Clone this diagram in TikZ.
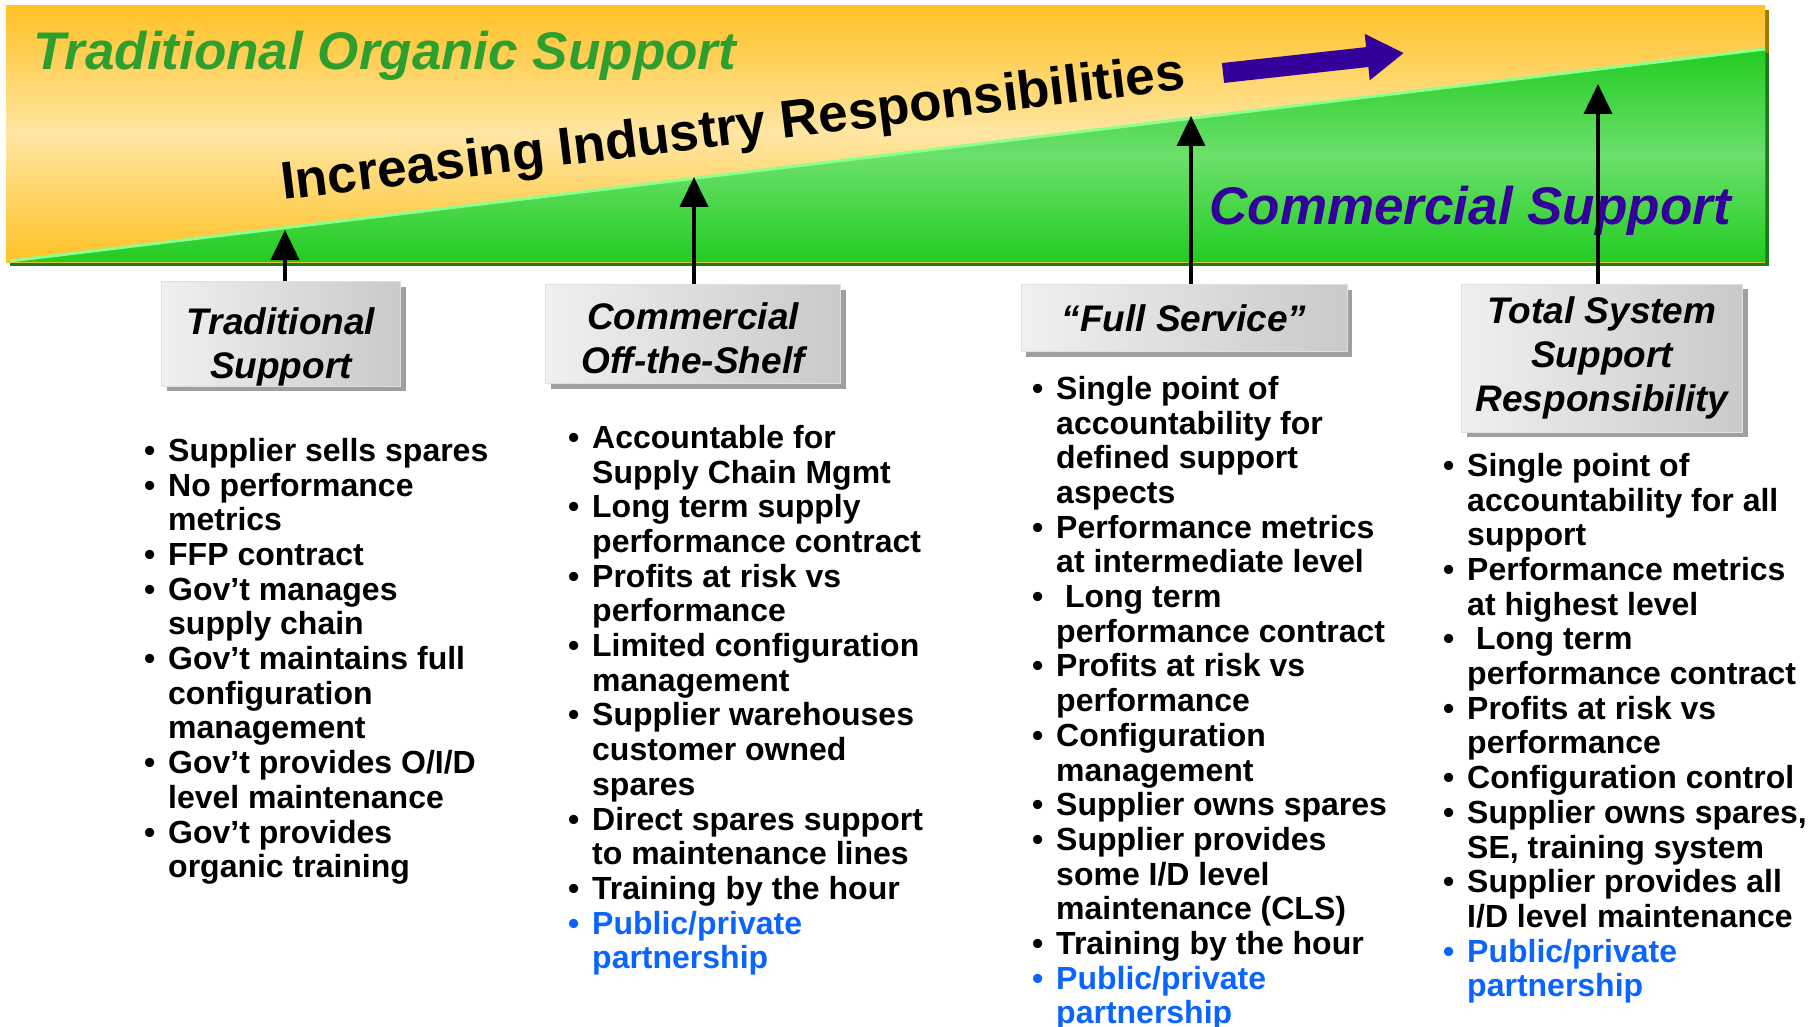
\documentclass[tikz,border=0pt]{standalone}
\usepackage{fontspec}
\setmainfont{Liberation Sans}
\usetikzlibrary{arrows.meta,shadows,positioning}

\definecolor{orgGreen}{HTML}{2E9E2E}
\definecolor{comBlue}{HTML}{330099}
\definecolor{linkBlue}{HTML}{0A64FF}
\definecolor{bandTop}{HTML}{FFC125}
\definecolor{bandMid}{HTML}{FFE6A3}
\definecolor{grnTop}{HTML}{22CC22}
\definecolor{grnMid}{HTML}{6CE06C}
\definecolor{grnDark}{HTML}{1E7A1E}
\definecolor{oliveDark}{HTML}{9C7C00}

\newcommand\bul{\makebox[24pt][l]{\textbullet}}
\newcommand\pub{\makebox[24pt][l]{\color{linkBlue}\textbullet}}
\newcommand\ind{\hspace*{24pt}}

\begin{document}
\begin{tikzpicture}[x=1pt,y=-1pt,
  support box/.style={draw=gray!25,line width=0.8pt,left color=gray!12,right color=gray!42,
    drop shadow={shadow xshift=5pt,shadow yshift=-5pt,fill=gray!75,opacity=1},
    align=center,inner sep=0pt,font=\fontsize{37}{44}\selectfont\bfseries\itshape},
  item list/.style={anchor=north west,align=left,inner sep=0pt,
    font=\fontsize{32}{34.7}\selectfont\bfseries},
  up arrow/.style={line width=4pt,-{Triangle[length=30pt,width=28pt]}},
  big title/.style={inner sep=0pt,font=\fontsize{53}{60}\selectfont\bfseries\itshape}]
  \useasboundingbox (0,0) rectangle (1818,1027);

  % banner
  \fill[grnDark] (10,10) rectangle (1769,266);
  \fill[oliveDark] (1765,10) rectangle (1769,53);
  \shade[top color=bandTop,bottom color=bandTop,middle color=bandMid] (6,6) rectangle (1765,262);
  \shade[top color=grnTop,bottom color=grnTop,middle color=grnMid]
    (8,262) -- (1765,49) -- (1765,262) -- cycle;
  \draw[green!45!white,line width=3pt] (10,261) -- (1765,49);

  \node[big title,anchor=west,text=orgGreen] (organic) at (33,56) {Traditional Organic Support};
  \node[inner sep=0pt,rotate=7,font=\fontsize{53}{60}\selectfont\bfseries] (industry) at (733,131)
    {Increasing Industry Responsibilities};
  \node[big title,anchor=east,text=comBlue] (commercial) at (1731,211) {Commercial Support};

  \coordinate (ba) at (1223,73);
  \coordinate (bb) at (1404,53);
  \draw[comBlue,line width=20pt,-{Triangle[length=37pt,width=44pt]}] (ba) -- (bb);

  % support levels
  \node[support box,minimum width=239pt,minimum height=99pt] (trad) at (281,334)
    {\rule{0pt}{53pt}Traditional\\Support};
  \node[support box,minimum width=295pt,minimum height=99pt] (cots) at (693,334)
    {\rule{0pt}{35pt}Commercial\\Off-the-Shelf};
  \node[support box,minimum width=326pt,minimum height=67pt] (full) at (1184,318) {“Full Service”};
  \node[support box,minimum width=281pt,minimum height=148pt] (tssr) at (1602,358)
    {Total System\\Support\\Responsibility};

  \coordinate (t1) at (285,230);
  \coordinate (t2) at (694,177);
  \coordinate (t3) at (1191,116);
  \coordinate (t4) at (1598,84);
  \draw[up arrow] (t1 |- trad.north) -- (t1);
  \draw[up arrow] (t2 |- cots.north) -- (t2);
  \draw[up arrow] (t3 |- full.north) -- (t3);
  \draw[up arrow] (t4 |- tssr.north) -- (t4);

  % lists
  \node[item list] (list1) at (144,438) {\bul Supplier sells spares\\
    \bul No performance\\ \ind metrics\\
    \bul FFP contract\\
    \bul Gov’t manages\\ \ind supply chain\\
    \bul Gov’t maintains full\\ \ind configuration\\ \ind management\\
    \bul Gov’t provides O/I/D\\ \ind level maintenance\\
    \bul Gov’t provides\\ \ind organic training};
  \node[item list] (list2) at (568,425) {\bul Accountable for\\ \ind Supply Chain Mgmt\\
    \bul Long term supply\\ \ind performance contract\\
    \bul Profits at risk vs\\ \ind performance\\
    \bul Limited configuration\\ \ind management\\
    \bul Supplier warehouses\\ \ind customer owned\\ \ind spares\\
    \bul Direct spares support\\ \ind to maintenance lines\\
    \bul Training by the hour\\
    \pub\textcolor{linkBlue}{Public/private}\\ \ind\textcolor{linkBlue}{partnership}};
  \node[item list] (list3) at (1032,376) {\bul Single point of\\ \ind accountability for\\
    \ind defined support\\ \ind aspects\\
    \bul Performance metrics\\ \ind at intermediate level\\
    \bul\ Long term\\ \ind performance contract\\
    \bul Profits at risk vs\\ \ind performance\\
    \bul Configuration\\ \ind management\\
    \bul Supplier owns spares\\
    \bul Supplier provides\\ \ind some I/D level\\ \ind maintenance (CLS)\\
    \bul Training by the hour\\
    \pub\textcolor{linkBlue}{Public/private}\\ \ind\textcolor{linkBlue}{partnership}};
  \node[item list] (list4) at (1443,453) {\bul Single point of\\ \ind accountability for all\\
    \ind support\\
    \bul Performance metrics\\ \ind at highest level\\
    \bul\ Long term\\ \ind performance contract\\
    \bul Profits at risk vs\\ \ind performance\\
    \bul Configuration control\\
    \bul Supplier owns spares,\\ \ind SE, training system\\
    \bul Supplier provides all\\ \ind I/D level maintenance\\
    \pub\textcolor{linkBlue}{Public/private}\\ \ind\textcolor{linkBlue}{partnership}};
\end{tikzpicture}
\end{document}
